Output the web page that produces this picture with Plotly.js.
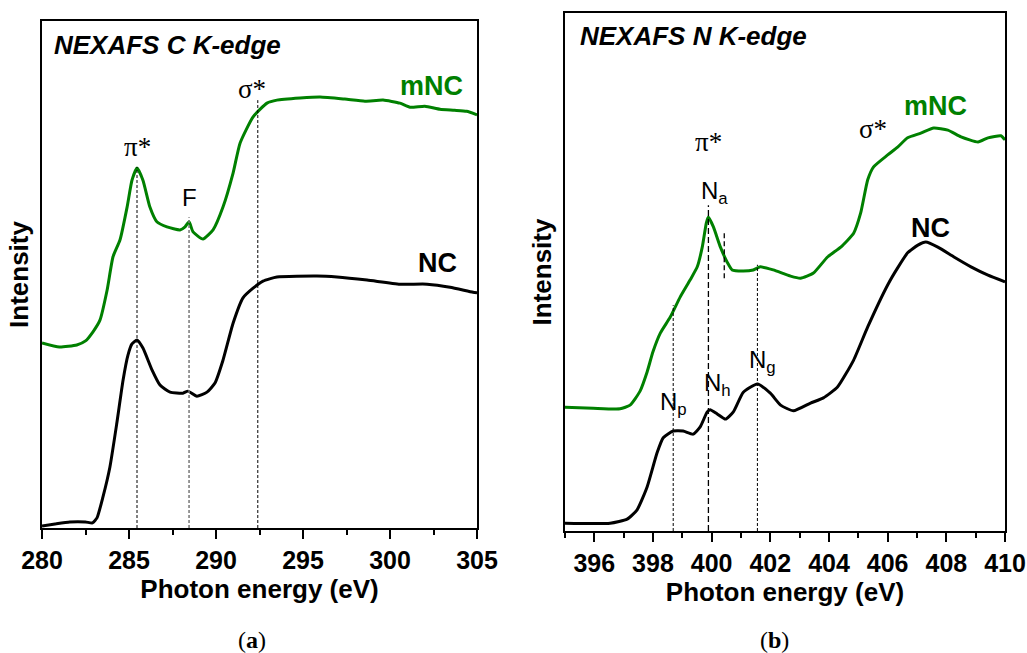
<!DOCTYPE html>
<html>
<head>
<meta charset="utf-8">
<script src="https://cdn.plot.ly/plotly-3.0.1.min.js"></script>
<style>html,body{margin:0;padding:0;background:#fff;}#chart{width:1027px;height:653px;}</style>
</head>
<body>
<div id="chart"></div>
<script>
// ---------- Panel (a): NEXAFS C K-edge ----------
const cEnergyMNC = [280.0,281.0,282.0,282.5,282.93,283.33,283.74,284.08,284.48,284.89,285.17,285.46,285.8,286.2,286.6,287.18,287.93,288.22,288.45,288.68,289.25,289.83,290.4,290.98,291.38,292.13,292.93,293.5,294.83,295.98,297.4,298.56,299.6,300.57,301.15,302.0,302.87,303.7,304.4,305.0];
const cIntMNC    = [36.5,35.7,36.1,36.9,38.7,41.0,46.9,53.5,56.8,63.3,68.6,71.0,68.6,63.3,60.4,59.4,58.8,59.4,60.4,58.4,57.0,58.8,63.3,70.0,75.9,81.1,83.8,84.4,84.8,85.0,84.6,84.2,84.4,83.8,83.0,83.2,82.6,82.4,82.2,81.5];
const cEnergyNC  = [280.0,280.75,281.6,282.5,282.9,283.16,283.5,283.9,284.3,284.66,284.94,285.17,285.46,285.8,286.32,286.78,287.36,288.1,288.39,288.9,289.48,289.94,290.4,290.98,291.55,292.13,292.7,293.5,295.8,296.95,298.68,300.57,302.13,303.45,304.77,305.0];
const cIntNC     = [0.4,0.8,1.2,1.2,1.0,2.0,6.1,12.0,20.7,29.2,34.1,36.3,37.1,35.5,31.2,28.2,26.8,26.6,27.0,26.0,26.8,28.6,33.1,40.4,45.4,47.3,48.7,49.5,49.7,49.5,48.9,48.1,48.1,47.5,46.5,46.4];
const cMarkE     = [285.46, 288.45, 292.4];   // pi*, F, sigma*
const cMarkTop   = [71.2, 61.3, 84.4];

// ---------- Panel (b): NEXAFS N K-edge ----------
const nEnergyMNC = [395.0,395.96,396.88,397.22,397.56,397.8,398.0,398.25,398.59,398.93,399.27,399.51,399.68,399.82,399.89,400.06,400.3,400.53,400.7,401.08,401.42,401.66,402.1,402.69,403.03,403.47,403.95,404.4,404.84,405.08,405.32,405.52,406.0,406.34,406.68,407.13,407.57,408.05,408.5,409.08,409.42,409.86,410.0];
const nIntMNC    = [23.9,23.7,23.6,24.3,27.0,30.7,34.6,38.2,41.3,45.2,48.5,51.0,54.8,59.5,60.6,58.7,54.8,51.9,50.4,50.2,50.4,51.0,50.4,49.2,48.8,49.8,52.9,54.8,57.5,61.4,67.8,70.3,72.6,74.1,75.9,76.8,77.8,77.4,76.1,75.1,75.9,76.3,75.5];
const nEnergyNC  = [395.0,396.54,397.12,397.46,397.8,398.14,398.35,398.69,399.03,399.37,399.61,399.85,399.95,400.19,400.47,400.74,401.08,401.56,402.0,402.35,402.79,403.37,403.81,404.29,404.84,405.32,406.0,406.34,406.68,407.03,407.3,407.71,408.26,408.84,409.42,410.0];
const nIntNC     = [1.5,1.5,2.3,4.1,8.5,15.1,18.0,19.3,19.3,18.7,20.1,23.0,23.4,22.6,21.6,23.0,26.8,28.4,26.6,24.3,23.2,24.7,25.7,27.8,33.0,39.4,47.5,50.8,53.7,55.2,55.8,54.8,52.9,51.0,49.4,48.1];
const nMarkE     = [398.69, 399.89, 401.56];  // Np, Na/Nh, Ng
const nMarkTop   = [43.6, 62.9, 51.4];
const nMarkDash  = ['3px,2px', '6px,3px', '3px,2px'];
const nShoulderE = 400.43;
const nShoulderRange = [48.8, 57.5];

const GREEN = 'rgb(0,128,0)';
const lineStyle = (c) => ({color: c, width: 3, shape: 'spline', smoothing: 0.5});

const traces = [
  {x: cEnergyMNC, y: cIntMNC, xaxis: 'x', yaxis: 'y', mode: 'lines', line: lineStyle(GREEN), name: 'mNC'},
  {x: cEnergyNC, y: cIntNC, xaxis: 'x', yaxis: 'y', mode: 'lines', line: lineStyle('#000'), name: 'NC'},
  {x: nEnergyMNC, y: nIntMNC, xaxis: 'x2', yaxis: 'y2', mode: 'lines', line: lineStyle(GREEN), name: 'mNC'},
  {x: nEnergyNC, y: nIntNC, xaxis: 'x2', yaxis: 'y2', mode: 'lines', line: lineStyle('#000'), name: 'NC'}
];

const shapes = [];
cMarkE.forEach((e, i) => shapes.push({type: 'line', xref: 'x', yref: 'y', x0: e, x1: e, y0: 0, y1: cMarkTop[i],
  line: {color: i === 1 ? '#777' : '#000', width: i === 1 ? 1.5 : 1, dash: '3px,2px'}}));
nMarkE.forEach((e, i) => shapes.push({type: 'line', xref: 'x2', yref: 'y2', x0: e, x1: e, y0: 0, y1: nMarkTop[i],
  line: {color: '#000', width: i === 1 ? 1.3 : 1, dash: nMarkDash[i]}}));
shapes.push({type: 'line', xref: 'x2', yref: 'y2', x0: nShoulderE, x1: nShoulderE, y0: nShoulderRange[0], y1: nShoulderRange[1],
  line: {color: '#000', width: 1.3, dash: '5px,3px'}});

const SANS = 'Liberation Sans, Arial, sans-serif';
const SERIF = 'Liberation Serif, Times New Roman, serif';
function ann(xr, yr, x, y, text, font, extra) {
  return Object.assign({xref: xr, yref: yr, x: x, y: y, text: text, showarrow: false, font: font,
    xanchor: 'center', yanchor: 'middle'}, extra || {});
}
const fTitle = {family: SANS, size: 26, color: '#000', weight: 'bold', style: 'italic'};
const fBoldG = {family: SANS, size: 27, color: GREEN, weight: 'bold'};
const fBoldK = {family: SANS, size: 27, color: '#000', weight: 'bold'};
const fSym = {family: SERIF, size: 27, color: '#000'};
const fReg = {family: SANS, size: 24, color: '#000'};

const annotations = [
  ann('x', 'y', 280.57, 95.3, 'NEXAFS C K-edge', fTitle, {xanchor: 'left'}),
  ann('x', 'y', 285.46, 75.2, 'π*', fSym),
  ann('x', 'y', 288.5, 65.1, 'F', fReg),
  ann('x', 'y', 292.07, 86.6, 'σ*', fSym),
  ann('x', 'y', 302.4, 87.2, 'mNC', fBoldG),
  ann('x', 'y', 302.7, 52.3, 'NC', fBoldK),
  ann('x2', 'y2', 395.44, 95.6, 'NEXAFS N K-edge', fTitle, {xanchor: 'left'}),
  ann('x2', 'y2', 399.89, 75.1, 'π*', fSym),
  ann('x2', 'y2', 405.49, 77.6, 'σ*', fSym),
  ann('x2', 'y2', 407.64, 82.0, 'mNC', fBoldG),
  ann('x2', 'y2', 407.47, 58.5, 'NC', fBoldK),
  ann('x2', 'y2', 399.58, 65.4, 'N<sub>a</sub>', fReg, {xanchor: 'left'}),
  ann('x2', 'y2', 398.16, 24.6, 'N<sub>p</sub>', fReg, {xanchor: 'left'}),
  ann('x2', 'y2', 399.66, 28.2, 'N<sub>h</sub>', fReg, {xanchor: 'left'}),
  ann('x2', 'y2', 401.2, 32.8, 'N<sub>g</sub>', fReg, {xanchor: 'left'}),
  ann('paper', 'paper', 0.2455, 0.02, '(<b>a</b>)', {family: SERIF, size: 24, color: '#000'}),
  ann('paper', 'paper', 0.7546, 0.02, '(<b>b</b>)', {family: SERIF, size: 24, color: '#000'})
];

const tickFont = {family: SANS, size: 25, color: '#000', weight: 'bold'};
const axTitleFont = {family: SANS, size: 26, color: '#000', weight: 'bold'};
function xAxis(domain, range, dtick, minorDtick, anchor) {
  return {domain: domain, range: range, anchor: anchor, dtick: dtick, tick0: 0,
    ticks: 'outside', ticklen: 9, tickwidth: 2, tickcolor: '#000',
    minor: {ticks: 'outside', dtick: minorDtick, ticklen: 5, tickwidth: 2, tickcolor: '#000', showgrid: false},
    showline: true, linewidth: 2, linecolor: '#000', mirror: true, showgrid: false, zeroline: false,
    tickfont: tickFont, title: {text: 'Photon energy (eV)', font: axTitleFont, standoff: 1}};
}
function yAxis(domain, anchor) {
  return {domain: domain, range: [0, 100], anchor: anchor, showticklabels: false, ticks: '',
    showline: true, linewidth: 2, linecolor: '#000', mirror: true, showgrid: false, zeroline: false,
    title: {text: 'Intensity', font: axTitleFont, standoff: 4}};
}

const layout = {
  width: 1027, height: 653,
  margin: {l: 0, r: 0, t: 0, b: 0},
  paper_bgcolor: '#fff', plot_bgcolor: '#fff',
  showlegend: false,
  xaxis: xAxis([0.0409, 0.4645], [280, 305], 5, 2.5, 'y'),
  yaxis: yAxis([0.1914, 0.9678], 'x'),
  xaxis2: xAxis([0.5501, 0.9786], [395, 410], 2, 1, 'y2'),
  yaxis2: yAxis([0.1868, 0.9801], 'x2'),
  shapes: shapes,
  annotations: annotations
};

Plotly.newPlot('chart', traces, layout, {staticPlot: true, displayModeBar: false});
</script>
</body>
</html>
